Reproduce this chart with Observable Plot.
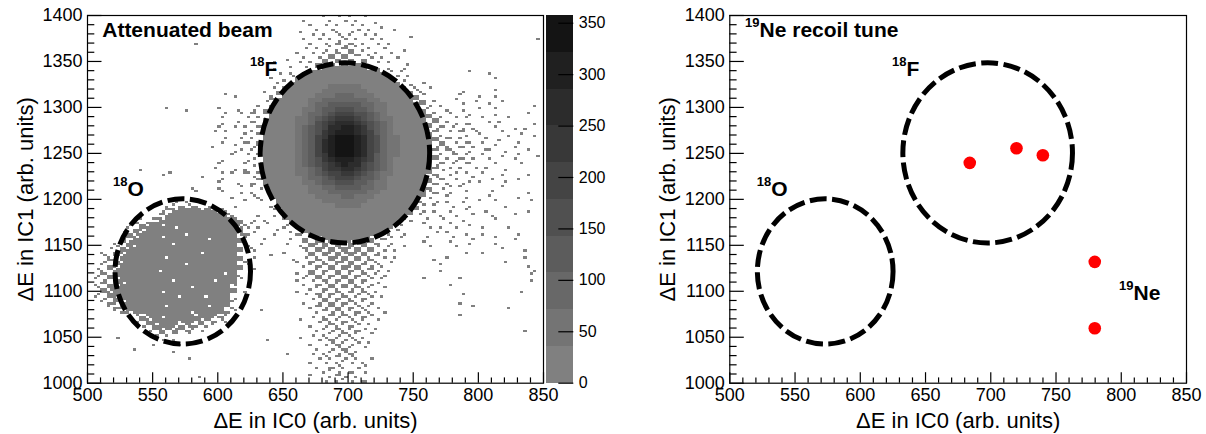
<!DOCTYPE html>
<html><head><meta charset="utf-8">
<script src="https://cdn.jsdelivr.net/npm/d3@7"></script>
<script src="https://cdn.jsdelivr.net/npm/@observablehq/plot@0.6"></script>
<style>
html,body{margin:0;padding:0;background:#fff;}
#wrap{position:relative;width:1206px;height:434px;overflow:hidden;font-family:"Liberation Sans",Arial,Helvetica,sans-serif;}
#wrap svg{position:absolute;top:0;overflow:visible;}
</style></head><body><div id="wrap"></div>
<script>
// ---------- data ----------
const xTicks = [500, 550, 600, 650, 700, 750, 800, 850];
const yTicks = [1000, 1050, 1100, 1150, 1200, 1250, 1300, 1350, 1400];
const cbTicks = [0, 50, 100, 150, 200, 250, 300, 350];
const cbMax = 357.5;
// colour bands of the palette (lowest count band first)
const bandGrays = ["#808080","#747474","#686868","#5c5c5c","#505050","#444444","#383838","#2c2c2c","#202020","#141414"];
const bandEdges = [0, 35.75, 71.5, 107.25, 143, 178.75, 214.5, 250.25, 286, 321.75, 357.5];

// 2-D histogram, 5x5-unit cells, x 500..850 (7 groups of 10), y 1400 down to 1000.
// '.' empty, '1'-'3' scattered low-count bins in the cell, '#' full low-count cell, 'a'..'i' count bands 1..9
const E = "..........";
const histRows = [
`${E} ${E} ${E} ......1.1. 1.1....... ${E} ${E}`,
`${E} ${E} ${E} ...1...1.1 .1..1..... ${E} ${E}`,
`${E} ${E} ${E} ....1.1.1. 1.1..1.... ${E} ${E}`,
`${E} ${E} ${E} ..1..1.11. 11.1...1.. ${E} ${E}`,
`${E} ${E} ${E} ....1.1.11 1.1.1....1 ${E} ${E}`,
`${E} ${E} ${E} ...1.1.111 .1.1.1.... ${E} .........1`,
`${E} ......1... ${E} ....1.1121 211.1.1... ${E} ${E}`,
`${E} ${E} ${E} ...1.11.12 2.11.1..1. ${E} ${E}`,
`${E} ${E} ${E} ..1.1.1222 22.11.1... ${E} ${E}`,
`${E} ${E} ${E} 1..1.12222 2.21.1.1.. ${E} ${E}`,
`${E} ${E} ........1. ..1.122222 222.1.1..1 ${E} ${E}`,
`${E} ${E} ........1. .1.1.2#### ###21.1.1. ${E} ${E}`,
`${E} ${E} .........1 .1.2###### #####21.1. ........1. .1........`,
`${E} ${E} ........1. .12####### ######21.1 ${E} ..1.......`,
`${E} ${E} .........1 12######## #######21. .1........ ${E}`,
`${E} ${E} ........1. 2######aaa aa######21 1.1....... ${E}`,
`${E} ${E} .......1.2 ######aaaa aaa######2 11.....1.. ..1.......`,
`${E} ${E} .11.....12 #####aaabb baaa###### 21.....1.. 1.1.......`,
`${E} ${E} .......12# ####aabbbb bbbaa##### 22.1..1..1 ...1......`,
`${E} ${E} ......1.2# ####abbccc ccbbaa#### #21.1..1.. .1......1.`,
`${E} ..1..1.... 1..1.1.2## ###aabccdd dccbaa#### #21..1.1.. 1.1.......`,
`${E} ${E} .1.1.2.2## ###abbcdee eddcba#### ##21.1..1. ..1....1..`,
`${E} ${E} 1...1.12## ##aabcdeff fedcbaa### ##221.1.1. 1...1.....`,
`${E} ${E} 1..1.2.### ##aabdefgg gfedcba### ##22.11.2. .1.1....1.`,
`${E} ${E} 1.1.1.2### ##abcdeggh hgfdcba### ##212.11.1 ..1..1.1..`,
`${E} .........1 .1..112### ##abcdfghh hgfecba### ##22.1.2.1 1..1..1...`,
`${E} ${E} .1.1.1.### ##abcefhii ihgedbaa## ###212.11. .1..1...1.`,
`${E} ${E} 1...2.1### ##abceghii ihgedbaa## ###22.1.2. 1..1..1...`,
`${E} .........1 ..1..12### ##abceghii ihgedbaa## ###121.2.1 ..1..1....`,
`${E} ${E} ..11.1.### ##abceghii ihgedbaa## ###2.21.1. .2..1..1..`,
`${E} ${E} ..1.1.1### ##abcefhii ihgecbaa## ###21.2.1. 1..1..1..1`,
`${E} ${E} 1...11.### ##abcdfghh hgfecba### ###2.112.1 .1...1....`,
`${E} ${E} 1...111### ##abcdefgh ggedcba### ###12.1.2. ..1...1...`,
`........1. .........1 ..1.1.1### ##aabceffg gfedcba### ###211.1.1 .1..1.....`,
`${E} .11....... 1.1.2.1### ##aabcdeef fedcbaa### ##22.11.1. 1..1...1..`,
`${E} .......1.. 1....12### ###abbcdee edccba#### ##212.1..1 ..1...1...`,
`${E} ${E} 1..1.2.### ###aabccdd dccbaa#### ##22.1.11. 1...1.....`,
`${E} ......1... 1..1.11.## ####aabbcc ccbbaa#### ##2.11.1.. ...1......`,
`${E} ......1... 1..1.1..## ####aaabbb bbbaa##### ##12.1..1. ..1....1..`,
`${E} ${E} ..1..11.## #####aaaab baaa###### #21..1..1. .1....1...`,
`${E} ...1.1.1.. ....1.1..# ######aaaa aaa####### #1.1.1.1.. 1.1.....1.`,
`${E} ..11212.1. ..1.....1# ########aa aa######## 21.1..1.1. ....1.....`,
`${E} .123###3#3 21......1. ########## ########## 21.1.1..1. .1.....1..`,
`${E} .23####### #31...1.1. ########## #########2 .1..1.1..1 ..1..1....`,
`........1. 23######## ###2.1.1.. 2######### ########21 ..1.1..1.. ..1.......`,
`......1223 #3######## ###311.1.. 12######## #######21. .1...1..1. ${E}`,
`......123# ###3###### ###31.1..1 1.2####### ######21.. ..1.1.1... 1...1.....`,
`.....1233# #####3#### ###321..1. .122###### #####21.1. ...1.1..1. 1.....1...`,
`.....123## #3######3# ###21..1.. .1.223#### ###3221.1. ..1...1..1 ..1..1....`,
`....123### ###3###### ###21.1... 1..2233333 33222.1... .1...1..1. ..1.......`,
`...11233## ########## ###211.... ..12223232 32221.1.1. ..1...1... ...1......`,
`..1.23#### #######3## ###2.1.... 1..1222323 232211.1.. ........1. 1......1..`,
`..1123#### ##3####### ###2.1..1. ...1212232 222121.1.. .....1.... .......1..`,
`..1233#### ########## ###21..... .11.221223 22121.1... ...1...... ....1.....`,
`..123##### #####3#### ###21..... ...1122212 322111.... ....1..... .......1..`,
`.1123##### #3######## ###2.1.... ....212222 22121.1... ....1..... ........1.`,
`.1223##### ########## #3#1...... ..11221222 122111.... ${E} ........1.`,
`.1123##### ###3#####3 ###1...... ..11122122 2121.1.... .1.....1.. ........1.`,
`.12233#### ########## ##3....... ...1.21212 21111..... .....1.... ${E}`,
`.123###### ######3### ##2....... ....112212 1211.1.... ${E} ${E}`,
`.123###### #3######## ##2.1..... ..11.21221 21211..... .......1.. ......1...`,
`.1123##### ####3###3# ##1....... ....112122 1121.1.... ${E} ${E}`,
`..1233#### ########## ##1....... ...1.12212 2111...... .......1.. ${E}`,
`...123#### ##3#####3# #21....... ....121221 21111..... .........1 ....1.....`,
`....123### ######3### #21...1... .....12121 1211.1.... ${E} ${E}`,
`.......123 #3####3##3 21........ ....1.1212 1121...... .......1.. ${E}`,
`.......123 ####3#3322 11........ ..1..12112 111.1..... ${E} ${E}`,
`........12 3##3232211 ${E} ....1.1211 21.1...... ${E} ${E}`,
`.........1 23232211.. ${E} .....11121 121.1..... ${E} .......1..`,
`${E} 1212.1.... ${E} ....1.1112 11.1...... ${E} ${E}`,
`....1..... .1.1...... .......1.. ..1..11211 111....... ${E} ${E}`,
`${E} 1...1..... ${E} ....1.1121 11.1...... ${E} ${E}`,
`.......1.. ${E} ${E} .....1.112 1.1....... ${E} ${E}`,
`${E} ...1...... ${E} 1...1.1111 21........ ${E} ${E}`,
`${E} .....1.... ${E} .....11121 11.1...... ${E} ${E}`,
`${E} ${E} ${E} ....1.1.11 1.1....... ${E} ${E}`,
`${E} ${E} ${E} .....1.211 .11....... ${E} ${E}`,
`${E} ${E} ${E} ......111. 2.1....... ${E} ${E}`,
`${E} .......1.. ${E} ....1..121 .1........ ${E} ${E}`,
`${E} ${E} ${E} ......1.11 1.2....... ${E} ${E}`
];

// gates drawn on both panels (centre and semi-axes, in data units)
const gateNames = ["18O", "18F"];
const gateCx = [573.5, 698];
const gateCy = [1121, 1250];
const gateRx = [52, 65];
const gateRy = [79, 98];

// 19Ne recoil events (right panel)
const recoilX = [683.9, 719.7, 739.9, 779.7, 779.7];
const recoilY = [1239.7, 1255.6, 1248.0, 1132.0, 1059.7];

// labels: superscript mass number + symbol, anchored at the junction (data units)
const leftLabels = [
  {x: 635.8, y: 1334.7, sup: "18", main: "F"},
  {x: 530.7, y: 1204, sup: "18", main: "O"}
];
const rightLabels = [
  {x: 635.4, y: 1334.7, sup: "18", main: "F"},
  {x: 531.8, y: 1204, sup: "18", main: "O"},
  {x: 809.4, y: 1090, sup: "19", main: "Ne"},
  {x: 522.8, y: 1377, sup: "19", main: "Ne recoil tune"}
];
const leftTitle = [{x: 511.3, y: 1377, text: "Attenuated beam"}];
const xTitle = "\u0394E in IC0 (arb. units)";
const yTitle = "\u0394E in IC1 (arb. units)";

// ---------- build table from the grid ----------
const SUB = [[0, 0], [2.5, 2.5], [2.5, 0], [0, 2.5]];
const cells = [];
histRows.forEach((row, r) => {
  const s = row.replace(/ /g, "");
  const yTop = 1400 - 5 * r;
  for (let c = 0; c < s.length; c++) {
    const ch = s[c], x0 = 500 + 5 * c;
    if (ch === "#") cells.push({x1: x0, x2: x0 + 5, y1: yTop - 5, y2: yTop, count: 18});
    else if (ch >= "a" && ch <= "i") {
      const lv = ch.charCodeAt(0) - 96;
      cells.push({x1: x0, x2: x0 + 5, y1: yTop - 5, y2: yTop, count: lv * 35.75 + 18});
    } else if (ch >= "1" && ch <= "3") {
      const start = (r * 3 + c) % 4;      // vary which sub-bins of the cell are drawn
      for (let k = 0; k < +ch; k++) {
        const [dx, dy] = SUB[(start + k * 2 + (k > 1 ? 1 : 0)) % 4];
        cells.push({x1: x0 + dx, x2: x0 + dx + 2.5, y1: yTop - dy - 2.5, y2: yTop - dy, count: 5});
      }
    }
  }
});
const gates = gateNames.map((n, i) => ({name: n, cx: gateCx[i], cy: gateCy[i], rx: gateRx[i], ry: gateRy[i]}));
const recoils = recoilX.map((x, i) => ({x, y: recoilY[i]}));
const bands = bandGrays.map((g, i) => ({lo: bandEdges[i], hi: bandEdges[i + 1], fill: g}));

// ---------- helpers ----------
const FONT = "Liberation Sans, Arial, Helvetica, sans-serif";
const FH = 367.7;            // frame height px
const xMinor = d3.range(510, 850, 10).filter(v => v % 50);
const yMinor = d3.range(1010, 1400, 10).filter(v => v % 50);

function gateMark(list) {
  return (index, scales) => {
    const g = d3.create("svg:g");
    for (const e of list) {
      const cx = scales.x(e.cx), cy = scales.y(e.cy);
      const rx = Math.abs(scales.x(e.cx + e.rx) - cx), ry = Math.abs(scales.y(e.cy + e.ry) - cy);
      g.append("ellipse").attr("cx", cx).attr("cy", cy).attr("rx", rx).attr("ry", ry)
        .attr("fill", "none").attr("stroke", "#000").attr("stroke-width", 5)
        .attr("stroke-dasharray", "17 5.5");
    }
    return g.node();
  };
}

function panel(opts) {
  const {width, marginLeft, marginRight, extra} = opts;
  const FW = width - marginLeft - marginRight;
  return Plot.plot({
    width, height: 434, marginLeft, marginRight, marginTop: 15, marginBottom: 51.3,
    style: {fontFamily: FONT, fontSize: "18px", background: "transparent", color: "#000"},
    x: {domain: [500, 850]},
    y: {domain: [1000, 1400]},
    color: {type: "threshold", domain: bandEdges.slice(1, -1), range: bandGrays},
    marks: [
      ...extra,
      Plot.frame({stroke: "#000", strokeWidth: 1.2}),
      Plot.tickX(xTicks, {x: d => d, insetTop: FH - 10.5, stroke: "#000", strokeWidth: 1.2}),
      Plot.tickX(xMinor, {x: d => d, insetTop: FH - 5.3, stroke: "#000", strokeWidth: 1.2}),
      Plot.tickY(yTicks, {y: d => d, insetRight: FW - 14.5, stroke: "#000", strokeWidth: 1.2}),
      Plot.tickY(yMinor, {y: d => d, insetRight: FW - 7.3, stroke: "#000", strokeWidth: 1.2}),
      Plot.axisX({ticks: xTicks, tickSize: 0, tickPadding: 5, label: null, fontSize: 18, tickFormat: d => String(d)}),
      Plot.axisY({ticks: yTicks, tickSize: 0, tickPadding: 5, label: null, fontSize: 18, tickFormat: d => String(d)}),
      Plot.text([xTitle], {frameAnchor: "bottom", dy: 45, textAnchor: "middle", lineAnchor: "bottom", fontSize: 22, text: d => d}),
      Plot.text([yTitle], {frameAnchor: "left", dx: -62, rotate: -90, textAnchor: "middle", lineAnchor: "middle", fontSize: 22, text: d => d}),
      Plot.text(opts.labels, {x: "x", y: "y", text: "main", textAnchor: "start", lineAnchor: "bottom", fontSize: 21, fontWeight: "bold"}),
      Plot.text(opts.labels, {x: "x", y: "y", text: "sup", textAnchor: "end", lineAnchor: "bottom", dy: -10, fontSize: 13, fontWeight: "bold"})
    ]
  });
}

const wrap = document.getElementById("wrap");

// left panel
const left = panel({
  width: 560, marginLeft: 87, marginRight: 17, labels: leftLabels,
  extra: [
    Plot.rect(cells, {x1: "x1", x2: "x2", y1: "y1", y2: "y2", fill: "count", shapeRendering: "crispEdges"}),
    gateMark(gates),
    Plot.text(leftTitle, {x: "x", y: "y", text: "text", textAnchor: "start", lineAnchor: "bottom", fontSize: 21, fontWeight: "bold"})
  ]
});
left.style.left = "0px";
wrap.appendChild(left);

// colour bar
const cb = Plot.plot({
  width: 80, height: 434, marginLeft: 2.7, marginRight: 49.7, marginTop: 15, marginBottom: 51.3,
  style: {fontFamily: FONT, fontSize: "16px", background: "transparent", color: "#000"},
  x: {domain: [0, 1], axis: null},
  y: {domain: [0, cbMax]},
  marks: [
    Plot.rect(bands, {x1: 0, x2: 1, y1: "lo", y2: "hi", fill: "fill", shapeRendering: "crispEdges"}),
    Plot.tickY(cbTicks, {y: d => d, insetLeft: 12.6, stroke: "#000", strokeWidth: 1.2}),
    Plot.axisY({anchor: "right", ticks: cbTicks, tickSize: 0, tickPadding: 5, label: null, fontSize: 16, tickFormat: d => String(d)})
  ]
});
cb.style.left = "543px";
wrap.appendChild(cb);

// right panel
const right = panel({
  width: 606, marginLeft: 129.3, marginRight: 20, labels: rightLabels,
  extra: [
    gateMark(gates),
    Plot.dot(recoils, {x: "x", y: "y", r: 6.3, fill: "#ff0000", stroke: "none"})
  ]
});
right.style.left = "600px";
wrap.appendChild(right);
</script></body></html>
